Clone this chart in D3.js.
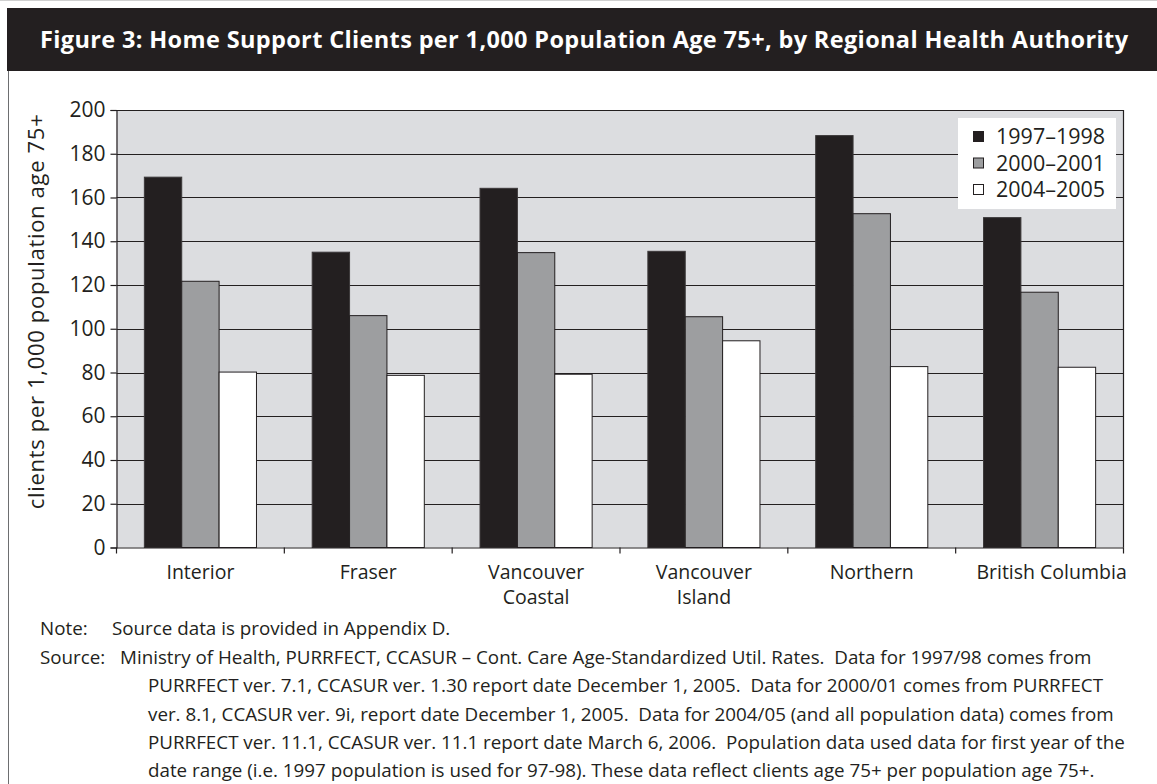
<!DOCTYPE html>
<html>
<head>
<meta charset="utf-8">
<script src="https://cdn.jsdelivr.net/npm/d3@7"></script>
<style>
  html, body { margin: 0; padding: 0; background: #fff; }
  svg { display: block; font-family: "Open Sans", sans-serif; }
</style>
</head>
<body>
<svg id="chart" width="1157" height="784"></svg>
<script>
// Regions (health authorities) and the province as a whole
const categories = ["Interior", "Fraser", "Vancouver Coastal", "Vancouver Island", "Northern", "British Columbia"];
const categoryLines = [["Interior"], ["Fraser"], ["Vancouver", "Coastal"], ["Vancouver", "Island"], ["Northern"], ["British Columbia"]];

// Fiscal periods
const seriesNames = ["1997–1998", "2000–2001", "2004–2005"];

// Home support clients per 1,000 population age 75+
const values1997 = [169.3, 135.0, 164.2, 135.4, 188.3, 150.8];
const values2000 = [121.7, 106.0, 134.8, 105.5, 152.6, 116.7];
const values2004 = [80.2, 78.7, 79.2, 94.5, 82.7, 82.4];

const yTicks = [0, 20, 40, 60, 80, 100, 120, 140, 160, 180, 200];

const titleText = "Figure 3: Home Support Clients per 1,000 Population Age 75+, by Regional Health Authority";
const yAxisTitle = "clients per 1,000 population age 75+";
const noteText = "Source data is provided in Appendix D.";
const sourceLines = [
  "Ministry of Health, PURRFECT, CCASUR – Cont. Care Age-Standardized Util. Rates.  Data for 1997/98 comes from",
  "PURRFECT ver. 7.1, CCASUR ver. 1.30 report date December 1, 2005.  Data for 2000/01 comes from PURRFECT",
  "ver. 8.1, CCASUR ver. 9i, report date December 1, 2005.  Data for 2004/05 (and all population data) comes from",
  "PURRFECT ver. 11.1, CCASUR ver. 11.1 report date March 6, 2006.  Population data used data for first year of the",
  "date range (i.e. 1997 population is used for 97-98). These data reflect clients age 75+ per population age 75+."
];

const seriesValues = [values1997, values2000, values2004];
const table = categories.map((c, i) => ({
  category: c,
  values: seriesNames.map((s, k) => ({ series: s, value: seriesValues[k][i] }))
}));

const fills = { "1997–1998": "#231f20", "2000–2001": "#9d9ea0", "2004–2005": "#ffffff" };
const ink = "#231f20";

const svg = d3.select("#chart");

// Frame and title band
svg.append("rect").attr("x", 0).attr("y", 0).attr("width", 1157).attr("height", 1).attr("fill", "#d0d0d0");
svg.append("rect").attr("x", 7).attr("y", 8).attr("width", 1150).attr("height", 63).attr("fill", ink);
svg.append("line").attr("x1", 8.5).attr("x2", 8.5).attr("y1", 71).attr("y2", 784)
  .attr("stroke", "#6d6e70").attr("stroke-width", 1);
svg.append("text").attr("x", 40).attr("y", 48)
  .attr("fill", "#fff").attr("font-weight", 700).attr("font-size", 23.5)
  .attr("textLength", 1088).attr("lengthAdjust", "spacing")
  .text(titleText);

// Plot geometry
const plot = { left: 116.5, right: 1123.5, top: 110, bottom: 547.5 };

const x0 = d3.scaleBand().domain(categories).range([plot.left, plot.right]).paddingInner(0).paddingOuter(0);
const groupFrac = 0.668;
const x1 = d3.scaleBand().domain(seriesNames)
  .range([x0.bandwidth() * (1 - groupFrac) / 2, x0.bandwidth() * (1 + groupFrac) / 2])
  .padding(0);
const y = d3.scaleLinear().domain([0, 200]).range([plot.bottom, plot.top]);

// Plot area background
svg.append("rect")
  .attr("x", plot.left).attr("y", plot.top)
  .attr("width", plot.right - plot.left).attr("height", plot.bottom - plot.top)
  .attr("fill", "#dcdde0");

// Horizontal gridlines
svg.append("g").selectAll("line").data(yTicks.filter(t => t > 0)).join("line")
  .attr("x1", plot.left).attr("x2", plot.right)
  .attr("y1", d => Math.round(y(d)) + 0.5).attr("y2", d => Math.round(y(d)) + 0.5)
  .attr("stroke", ink).attr("stroke-width", 1.2);

// Right border of the plot area
svg.append("line").attr("x1", plot.right).attr("x2", plot.right)
  .attr("y1", plot.top).attr("y2", plot.bottom).attr("stroke", ink).attr("stroke-width", 1.2);

// Bars
const groups = svg.append("g").selectAll("g").data(table).join("g")
  .attr("transform", d => `translate(${x0(d.category)},0)`);
groups.selectAll("rect").data(d => d.values).join("rect")
  .attr("x", d => x1(d.series))
  .attr("width", x1.bandwidth())
  .attr("y", d => y(d.value))
  .attr("height", d => y(0) - y(d.value))
  .attr("fill", d => fills[d.series])
  .attr("stroke", d => d.series === "1997–1998" ? "#3b3839" : ink)
  .attr("stroke-width", 1);

// Y axis
const yAxis = svg.append("g").attr("transform", `translate(${plot.left},0)`)
  .call(d3.axisLeft(y).tickValues(yTicks).tickSize(6).tickPadding(5).tickFormat(d3.format("d")));
yAxis.select(".domain").attr("stroke", ink).attr("stroke-width", 1.2);
yAxis.selectAll(".tick line").attr("stroke", ink).attr("stroke-width", 1.2);
yAxis.selectAll(".tick text").attr("fill", ink).attr("font-size", 21)
  .attr("font-family", "'Open Sans', sans-serif");

// X axis: baseline, ticks at group boundaries, and category labels
const xAxis = svg.append("g").attr("transform", `translate(0,${plot.bottom})`)
  .call(d3.axisBottom(x0).tickSize(0).tickPadding(0).tickFormat(""));
xAxis.select(".domain").attr("stroke", ink).attr("stroke-width", 1.2);

const boundaries = categories.map(c => x0(c)).concat([plot.right]);
svg.append("g").selectAll("line").data(boundaries).join("line")
  .attr("x1", d => d).attr("x2", d => d)
  .attr("y1", plot.bottom).attr("y2", plot.bottom + 6)
  .attr("stroke", ink).attr("stroke-width", 1.2);

// Category labels, one text element per line; the wide last label sits a little right of centre
const labelRows = categoryLines.flatMap((lines, i) =>
  lines.map((line, j) => ({ category: categories[i], line, row: j, last: i === categories.length - 1 })));
svg.append("g").selectAll("text").data(labelRows).join("text")
  .attr("x", d => x0(d.category) + x0.bandwidth() / 2 + (d.last ? 12 : 0))
  .attr("y", d => 579 + d.row * 25)
  .attr("text-anchor", "middle")
  .attr("font-size", 19.5)
  .attr("fill", ink)
  .text(d => d.line);

// Y axis title
svg.append("text")
  .attr("transform", `translate(44,${(plot.top + plot.bottom) / 2 - 17}) rotate(-90)`)
  .attr("text-anchor", "middle")
  .attr("font-size", 22)
  .attr("textLength", 395).attr("lengthAdjust", "spacing")
  .attr("fill", ink)
  .text(yAxisTitle);

// Legend
const legend = svg.append("g").attr("transform", "translate(958,118)");
legend.append("rect").attr("width", 158).attr("height", 91).attr("fill", "#fff");
seriesNames.forEach((s, i) => {
  const cy = 18.5 + i * 26.5;
  legend.append("rect").attr("x", 15.5).attr("y", cy - 5).attr("width", 10).attr("height", 10)
    .attr("fill", fills[s]).attr("stroke", ink).attr("stroke-width", 1);
  legend.append("text").attr("x", 38).attr("y", cy + 7.5)
    .attr("font-size", 21.5).attr("fill", ink).text(s);
});

// Notes and source
const foot = svg.append("g").attr("font-size", 18.8).attr("fill", ink);
foot.append("text").attr("x", 40).attr("y", 635).text("Note:");
foot.append("text").attr("x", 112).attr("y", 635).text(noteText);
foot.append("text").attr("x", 40).attr("y", 664).text("Source:");
sourceLines.forEach((line, i) => {
  foot.append("text").attr("x", i === 0 ? 120 : 148).attr("y", 664 + i * 28.3)
    .attr("xml:space", "preserve").style("white-space", "pre").text(line);
});
</script>
</body>
</html>
